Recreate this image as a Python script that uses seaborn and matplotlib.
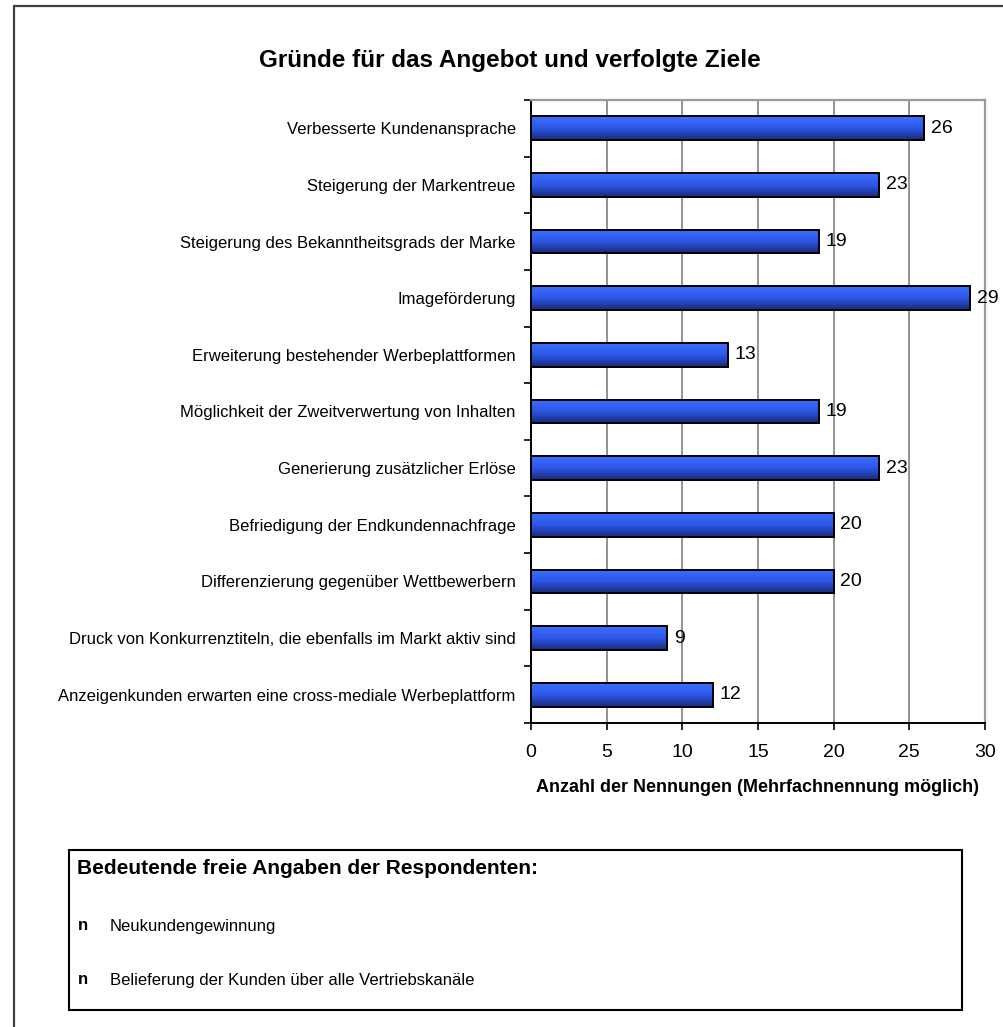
import numpy as np
import pandas as pd
import matplotlib
import matplotlib.pyplot as plt
import seaborn as sns
from matplotlib.colors import LinearSegmentedColormap
from matplotlib.patches import Rectangle
from matplotlib.lines import Line2D

matplotlib.use('Agg')

sns.set_theme(style="white")
plt.rcParams['font.family'] = ['Liberation Sans', 'DejaVu Sans']
plt.rcParams['text.color'] = 'black'
plt.rcParams['axes.labelcolor'] = 'black'
plt.rcParams['xtick.color'] = 'black'
plt.rcParams['ytick.color'] = 'black'

# data
categories = [
    "Verbesserte Kundenansprache",
    "Steigerung der Markentreue",
    "Steigerung des Bekanntheitsgrads der Marke",
    "Imageförderung",
    "Erweiterung bestehender Werbeplattformen",
    "Möglichkeit der Zweitverwertung von Inhalten",
    "Generierung zusätzlicher Erlöse",
    "Befriedigung der Endkundennachfrage",
    "Differenzierung gegenüber Wettbewerbern",
    "Druck von Konkurrenztiteln, die ebenfalls im Markt aktiv sind",
    "Anzeigenkunden erwarten eine cross-mediale Werbeplattform",
]
values = [26, 23, 19, 29, 13, 19, 23, 20, 20, 9, 12]
x_ticks = [0, 5, 10, 15, 20, 25, 30]
free_answers = ["Neukundengewinnung", "Belieferung der Kunden über alle Vertriebskanäle"]

df = pd.DataFrame({"Grund": categories, "Anzahl": values})

W, H = 1004, 1027
fig = plt.figure(figsize=(W / 100, H / 100), dpi=100)
ax = fig.add_axes([531 / W, 1 - 723 / H, (985 - 531) / W, (723 - 100) / H])

sns.barplot(data=df, x="Anzahl", y="Grund", orient="h", color="#2a50e0",
            width=0.42, edgecolor="black", linewidth=1.4, ax=ax, zorder=3)

# gradient fill for each bar
grad = LinearSegmentedColormap.from_list("bar", ["#3d70ff", "#2c56e8", "#1a2b7a"])
gimg = np.linspace(0, 1, 64).reshape(-1, 1)
for p in ax.patches:
    x0, y0 = p.get_x(), p.get_y()
    w, h = p.get_width(), p.get_height()
    im = ax.imshow(gimg, cmap=grad, aspect="auto", origin="upper",
                   extent=[x0, x0 + w, y0 + h, y0], zorder=3.5)
    im.set_clip_path(p)
    p.set_facecolor("none")
    p.set_zorder(4)

ax.set_xlim(0, 30)
ax.set_ylim(len(categories) - 0.5, -0.5)
ax.set_xticks(x_ticks)
ax.set_xticklabels([str(t) for t in x_ticks], fontsize=14)
ax.set_yticks(range(len(categories)))
ax.set_yticklabels(categories, fontsize=12)
ax.set_yticks(np.arange(-0.5, len(categories), 1.0), minor=True)
ax.tick_params(axis="y", which="major", length=0, pad=11)
ax.tick_params(axis="y", which="minor", length=5, width=1.2, color="black", direction="out", left=True)
ax.tick_params(axis="x", which="major", length=5, width=1.2, color="black", direction="out", bottom=True, pad=10)

ax.grid(axis="x", color="#808080", linewidth=1.2, zorder=0)
ax.set_axisbelow(True)
for s in ["left", "bottom"]:
    ax.spines[s].set_color("black")
    ax.spines[s].set_linewidth(1.4)
for s in ["top", "right"]:
    ax.spines[s].set_color("#9a9a9a")
    ax.spines[s].set_linewidth(1.6)

ax.set_ylabel("")
ax.set_xlabel("Anzahl der Nennungen (Mehrfachnennung möglich)", fontsize=13,
              fontweight="bold", labelpad=13)

for i, v in enumerate(values):
    ax.text(v + 0.45, i, str(v), va="center", ha="left", fontsize=14, zorder=5)

fig.text(510 / W, 1 - 60 / H, "Gründe für das Angebot und verfolgte Ziele",
         ha="center", va="center", fontsize=17.5, fontweight="bold")

# outer frame (left and top edges only visible)
fig.add_artist(Line2D([14 / W, 14 / W], [0, 1 - 6 / H], color="#404040", lw=1.6,
                      transform=fig.transFigure))
fig.add_artist(Line2D([14 / W, 1], [1 - 6 / H, 1 - 6 / H], color="#404040", lw=1.6,
                      transform=fig.transFigure))

# box with free answers
fig.add_artist(Rectangle((69 / W, 1 - 1010 / H), (962 - 69) / W, (1010 - 850) / H,
                         transform=fig.transFigure, facecolor="white",
                         edgecolor="black", lw=1.5))
fig.text(77 / W, 1 - 868 / H, "Bedeutende freie Angaben der Respondenten:",
         ha="left", va="center", fontsize=15, fontweight="bold")
for k, t in enumerate(free_answers):
    yy = 1 - (926 + 54 * k) / H
    fig.text(78 / W, yy, "n", ha="left", va="center", fontsize=12, fontweight="bold")
    fig.text(110 / W, yy, t, ha="left", va="center", fontsize=12)

fig.savefig("out.png", dpi=100)
